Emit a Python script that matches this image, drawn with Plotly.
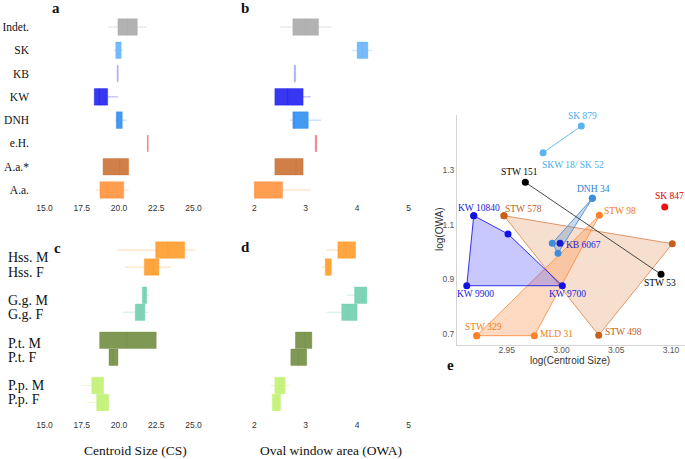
import plotly.graph_objects as go

W, H = 685, 459

# ---------------- Panels a & b : fossil specimens ----------------
a_labels = ["Indet.", "SK", "KB", "KW", "DNH", "e.H.", "A.a.*", "A.a."]
a_colors = [(165, 165, 165), (95, 175, 250), (165, 165, 250), (20, 20, 240),
            (35, 135, 240), (240, 110, 110), (200, 105, 40), (255, 140, 50)]

cs_q1 = [19.93, 19.78, 19.87, 18.34, 19.82, 21.90, 18.93, 18.72]
cs_med = [20.58, 19.97, 19.91, 18.68, 19.89, 21.93, 20.05, 19.17]
cs_q3 = [21.23, 20.15, 19.95, 19.24, 20.22, 21.96, 20.65, 20.32]
cs_lo = [19.28, 19.66, 19.87, 18.34, 19.75, 21.90, 18.93, 18.46]
cs_hi = [21.86, 20.29, 19.95, 19.95, 20.52, 21.96, 20.65, 20.65]

owa_q1 = [2.75, 4.00, 2.775, 2.40, 2.75, 3.185, 2.40, 2.00]
owa_med = [3.00, 4.10, 2.79, 2.65, 2.78, 3.20, 2.81, 2.02]
owa_q3 = [3.25, 4.21, 2.805, 2.95, 3.05, 3.215, 2.95, 2.55]
owa_lo = [2.50, 3.91, 2.775, 2.40, 2.69, 3.185, 2.40, 2.00]
owa_hi = [3.50, 4.30, 2.805, 3.10, 3.30, 3.215, 2.95, 3.10]

# ---------------- Panels c & d : extant apes by sex ----------------
grp_names = ["Hss.", "G.g.", "P.t.", "P.p."]
grp_colors = [(255, 150, 30), (105, 205, 170), (105, 135, 55), (190, 240, 105)]
sexes = ["M", "F"]
# order: Hss M, Hss F, G.g M, G.g F, P.t M, P.t F, P.p M, P.p F
c_q1 = [22.46, 21.70, 21.56, 21.09, 18.70, 19.33, 18.17, 18.50]
c_med = [23.27, 22.30, 21.72, 21.40, 20.52, 19.58, 18.55, 18.85]
c_q3 = [24.41, 22.68, 21.86, 21.74, 22.50, 19.93, 18.97, 19.31]
c_lo = [19.89, 20.40, 21.56, 20.25, 18.70, 19.33, 17.54, 17.83]
c_hi = [25.08, 23.49, 22.03, 21.99, 22.50, 19.93, 18.97, 19.31]

d_q1 = [3.625, 3.38, 3.95, 3.70, 2.80, 2.71, 2.40, 2.35]
d_med = [3.78, 3.44, 4.11, 3.84, 2.99, 2.86, 2.50, 2.45]
d_q3 = [3.97, 3.50, 4.19, 4.00, 3.12, 3.02, 2.60, 2.51]
d_lo = [3.41, 3.31, 3.80, 3.41, 2.80, 2.71, 2.31, 2.35]
d_hi = [3.97, 3.50, 4.19, 4.00, 3.12, 3.02, 2.70, 2.51]

# ---------------- Panel e : log(CS) vs log(OWA) ----------------
kw_names = ["KW 10840", "", "KW 9700", "KW 9900"]
kw_x = [2.9199, 2.9512, 3.0008, 2.9135]
kw_y = [1.1325, 1.0654, 0.8759, 0.8759]

stwd_names = ["STW 578", "", "STW 498"]
stwd_x = [2.9475, 3.1012, 3.0340]
stwd_y = [1.1325, 1.0298, 0.6941]

stwl_names = ["STW 329", "MLD 31", "STW 98"]
stwl_x = [2.9226, 2.9752, 3.0346]
stwl_y = [0.6927, 0.6927, 1.1340]

dnh_names = ["DNH 34", "", ""]
dnh_x = [3.0282, 2.9916, 2.9968]
dnh_y = [1.1963, 1.0313, 0.9947]

kb_names = ["KB 6067"]
kb_x = [2.9987]
kb_y = [1.0313]

sk_names = ["SK 879", "SKW 18/ SK 52"]
sk_x = [3.0181, 2.9832]
sk_y = [1.4613, 1.3634]

stwb_names = ["STW 151", "STW 53"]
stwb_x = [2.9670, 3.0909]
stwb_y = [1.2549, 0.9177]

sk847_names = ["SK 847"]
sk847_x = [3.0943]
sk847_y = [1.1644]


def rgba(c, a):
    return "rgba(%d,%d,%d,%.2f)" % (c[0], c[1], c[2], a)


def px(x, y):
    return x / W, 1 - y / H


fig = go.Figure()


def add_box(xa, ya, pos, q1, med, q3, lo, hi, col, width):
    fig.add_trace(go.Box(
        y=[pos], q1=[q1], median=[med], q3=[q3], lowerfence=[lo], upperfence=[hi],
        orientation="h", width=width, whiskerwidth=0, boxpoints=False,
        fillcolor=rgba(col, 0.85), line=dict(color=rgba(col, 0.35), width=1),
        xaxis=xa, yaxis=ya, hoverinfo="skip"))


# panels a, b
for i in range(len(a_labels)):
    add_box("x", "y", i, cs_q1[i], cs_med[i], cs_q3[i], cs_lo[i], cs_hi[i], a_colors[i], 0.71)
    add_box("x2", "y2", i, owa_q1[i], owa_med[i], owa_q3[i], owa_lo[i], owa_hi[i], a_colors[i], 0.71)

# panels c, d : layout positions (axis units = pixels from top of panel)
BOX_C0, BOX_STEP, BOX_HALF = 23.6, 45.1, 8.5
LAB_C0, LAB_STEP, LAB_HALF = 30.0, 42.6, 7.1
c_label_pos = []
k = 0
for g in range(len(grp_names)):
    for s in range(2):
        sign = -1 if s == 0 else 1
        pos = BOX_C0 + BOX_STEP * g + sign * BOX_HALF
        add_box("x3", "y3", pos, c_q1[k], c_med[k], c_q3[k], c_lo[k], c_hi[k], grp_colors[g], 16.5)
        add_box("x4", "y4", pos, d_q1[k], d_med[k], d_q3[k], d_lo[k], d_hi[k], grp_colors[g], 16.5)
        c_label_pos.append((grp_names[g] + " " + sexes[s], LAB_C0 + LAB_STEP * g + sign * LAB_HALF))
        k += 1


# panel e polygons
def poly(xs, ys, line_col, fill_col, mk_col, lw=1):
    fig.add_trace(go.Scatter(
        x=xs + [xs[0]], y=ys + [ys[0]], mode="lines+markers", fill="toself",
        fillcolor=fill_col, line=dict(color=line_col, width=lw),
        marker=dict(color=mk_col, size=7), xaxis="x5", yaxis="y5", hoverinfo="skip"))


poly(stwd_x, stwd_y, "rgba(215,120,60,0.75)", "rgba(230,150,95,0.30)", "#c8601c")
poly(stwl_x, stwl_y, "rgba(255,140,60,0.85)", "rgba(255,150,80,0.35)", "#ff8228")
poly(kw_x, kw_y, "rgba(30,30,235,0.9)", "rgba(50,50,255,0.27)", "#1212e6")
poly(dnh_x, dnh_y, "rgba(60,130,210,0.8)", "rgba(70,135,200,0.30)", "#3d8fdc")

fig.add_trace(go.Scatter(x=sk_x, y=sk_y, mode="lines+markers",
                         line=dict(color="rgba(90,180,240,0.9)", width=1),
                         marker=dict(color="#5ab4ee", size=7), xaxis="x5", yaxis="y5"))
fig.add_trace(go.Scatter(x=stwb_x, y=stwb_y, mode="lines+markers",
                         line=dict(color="rgba(40,40,40,0.85)", width=1),
                         marker=dict(color="#000000", size=7), xaxis="x5", yaxis="y5"))
fig.add_trace(go.Scatter(x=kb_x, y=kb_y, mode="markers",
                         marker=dict(color="#1a1ad0", size=7), xaxis="x5", yaxis="y5"))
fig.add_trace(go.Scatter(x=sk847_x, y=sk847_y, mode="markers",
                         marker=dict(color="#ee1111", size=7), xaxis="x5", yaxis="y5"))

# label styles for panel e (colour, x shift, y shift)
lab_style = {
    "SK 879": ("#4aaeea", 1, 10),
    "SKW 18/ SK 52": ("#4aaeea", 30, -12),
    "STW 151": ("#000000", -6, 10),
    "DNH 34": ("#2a7fd6", 1, 9),
    "SK 847": ("#e00000", 5, 11),
    "KW 10840": ("#2020dd", 5, 8),
    "STW 578": ("#c0601a", 20, 7),
    "STW 98": ("#f07d20", 21, 4),
    "KB 6067": ("#2020dd", 23, -2),
    "KW 9900": ("#2020dd", 9, -8),
    "KW 9700": ("#2020dd", 5, -8),
    "STW 53": ("#000000", -1, -9),
    "STW 329": ("#f07d20", 7, 9),
    "MLD 31": ("#f07d20", 22, 2),
    "STW 498": ("#c0601a", 25, 3),
}

annotations = []
serif = "Liberation Serif, Times New Roman, serif"
for names, xs, ys in [(kw_names, kw_x, kw_y), (stwd_names, stwd_x, stwd_y),
                      (stwl_names, stwl_x, stwl_y), (dnh_names, dnh_x, dnh_y),
                      (kb_names, kb_x, kb_y), (sk_names, sk_x, sk_y),
                      (stwb_names, stwb_x, stwb_y), (sk847_names, sk847_x, sk847_y)]:
    for n, xv, yv in zip(names, xs, ys):
        if not n:
            continue
        col, dx, dy = lab_style[n]
        annotations.append(dict(x=xv, y=yv, xref="x5", yref="y5", text=n, showarrow=False,
                                xshift=dx, yshift=dy, xanchor="center", yanchor="middle",
                                font=dict(family=serif, size=9.5, color=col)))

# panel c category labels
for txt, ypos in c_label_pos:
    annotations.append(dict(x=6 / W, y=ypos, xref="paper", yref="y3", text=txt, showarrow=False,
                            xanchor="left", yanchor="middle",
                            font=dict(family=serif, size=14, color="#111")))


def ptext(txt, x, y, size, family=serif, color="#111", bold=False, angle=0):
    xx, yy = px(x, y)
    annotations.append(dict(x=xx, y=yy, xref="paper", yref="paper",
                            text="<b>%s</b>" % txt if bold else txt, showarrow=False,
                            xanchor="center", yanchor="middle", textangle=angle,
                            font=dict(family=family, size=size, color=color)))


ptext("a", 56, 8, 15, bold=True)
ptext("b", 245, 8, 15, bold=True)
ptext("c", 57, 248, 15, bold=True)
ptext("d", 245, 247, 15, bold=True)
ptext("e", 450, 365, 15, bold=True)
ptext("Centroid Size (CS)", 135, 450, 13.5)
ptext("Oval window area (OWA)", 331, 450, 13.5)
ptext("log(Centroid Size)", 570, 360, 10, family="Liberation Sans, Arial, sans-serif", color="#333")
ptext("log(OWA)", 440, 229, 10, family="Liberation Sans, Arial, sans-serif", color="#333", angle=-90)

tickf = dict(family="Liberation Sans, Arial, sans-serif", size=8.5, color="#333")
base_ax = dict(showgrid=False, zeroline=False, showline=False, ticks="", ticklen=0)

cs_ticks = [15, 17.5, 20, 22.5, 25]
owa_ticks = [2, 3, 4, 5]
e_xticks = [2.95, 3.00, 3.05, 3.10]
e_yticks = [0.7, 0.9, 1.1, 1.3]

ya_dom = [1 - 201.6 / H, 1 - 15.4 / H]
yc_dom = [1 - 418 / H, 1 - 235 / H]

fig.update_layout(
    width=W, height=H, margin=dict(l=0, r=0, t=0, b=0),
    paper_bgcolor="white", plot_bgcolor="white", showlegend=False,
    xaxis=dict(base_ax, domain=[30 / W, 220 / W], range=[14.027, 26.78], anchor="y",
               tickvals=cs_ticks, ticktext=["%.1f" % v for v in cs_ticks], tickfont=tickf),
    yaxis=dict(base_ax, domain=ya_dom, range=[7.5, -0.5], anchor="x",
               tickvals=list(range(len(a_labels))), ticktext=a_labels,
               tickfont=dict(family=serif, size=11.5, color="#111")),
    xaxis2=dict(base_ax, domain=[240 / W, 430 / W], range=[1.722, 5.418], anchor="y2",
                tickvals=owa_ticks, ticktext=[str(v) for v in owa_ticks], tickfont=tickf),
    yaxis2=dict(base_ax, domain=ya_dom, range=[7.5, -0.5], anchor="x2", showticklabels=False),
    xaxis3=dict(base_ax, domain=[30 / W, 220 / W], range=[14.027, 26.78], anchor="y3",
                tickvals=cs_ticks, ticktext=["%.1f" % v for v in cs_ticks], tickfont=tickf),
    yaxis3=dict(base_ax, domain=yc_dom, range=[183, 0], anchor="x3", showticklabels=False),
    xaxis4=dict(base_ax, domain=[240 / W, 430 / W], range=[1.722, 5.418], anchor="y4",
                tickvals=owa_ticks, ticktext=[str(v) for v in owa_ticks], tickfont=tickf),
    yaxis4=dict(base_ax, domain=yc_dom, range=[183, 0], anchor="x4", showticklabels=False),
    xaxis5=dict(showgrid=False, zeroline=False, showline=True, linecolor="#d4d4d4", linewidth=1,
                ticks="", ticklabelstandoff=-3, domain=[457 / W, 1.0], range=[2.9046, 3.1128],
                anchor="y5", tickvals=e_xticks, ticktext=["%.2f" % v for v in e_xticks],
                tickfont=dict(family="Liberation Sans, Arial, sans-serif", size=8.5, color="#555")),
    yaxis5=dict(showgrid=False, zeroline=False, showline=True, linecolor="#d4d4d4", linewidth=1,
                ticks="", domain=[1 - 345 / H, 1 - 115 / H], range=[0.6586, 1.5016], anchor="x5",
                tickvals=e_yticks, ticktext=["%.1f" % v for v in e_yticks],
                tickfont=dict(family="Liberation Sans, Arial, sans-serif", size=8.5, color="#555")),
    annotations=annotations,
)

fig.write_html("out.html", config={"displayModeBar": False},
               post_script="document.body.style.margin='0px';document.body.style.padding='0px';")
